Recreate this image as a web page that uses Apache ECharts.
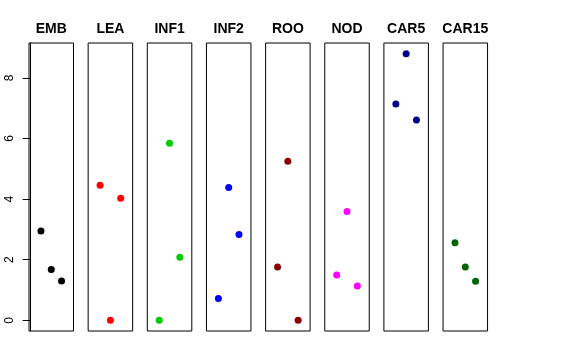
<!DOCTYPE html>
<html><head><meta charset="utf-8">
<script src="https://cdn.jsdelivr.net/npm/echarts@6/dist/echarts.min.js"></script>
<style>html,body{margin:0;padding:0;background:#fff}#c{width:576px;height:360px}</style>
</head><body><div id="c"></div>
<script>
const panels = ["EMB","LEA","INF1","INF2","ROO","NOD","CAR5","CAR15"];
const colors = ["#000000","#FF0000","#00CD00","#0000FF","#8B0000","#FF00FF","#00008B","#006400"];
const xPos = [1, 2, 3];
const valEMB = [2.95, 1.68, 1.30];
const valLEA = [4.46, 0.00, 4.03];
const valINF1 = [0.00, 5.84, 2.08];
const valINF2 = [0.72, 4.38, 2.83];
const valROO = [1.76, 5.25, 0.00];
const valNOD = [1.50, 3.59, 1.13];
const valCAR5 = [7.14, 8.80, 6.61];
const valCAR15 = [2.56, 1.76, 1.29];
const yTicks = [0, 2, 4, 6, 8];
const values = [valEMB, valLEA, valINF1, valINF2, valROO, valNOD, valCAR5, valCAR15];

(function () {
const grids = [], xAxes = [], yAxes = [], series = [], titles = [];
const left0 = 29, step = 59.15, pw = 44.5, ptop = 43, ph = 288;
panels.forEach((name, i) => {
  const L = left0 + step * i;
  grids.push({left: L, top: ptop, width: pw, height: ph, show: true, borderColor: '#000', borderWidth: 1, backgroundColor: 'transparent'});
  xAxes.push({type: 'value', gridIndex: i, min: -0.16, max: 4.16, show: false});
  yAxes.push({type: 'value', gridIndex: i, min: -0.352, max: 9.152,
    show: i === 0,
    splitLine: {show: false},
    axisLine: {show: true, lineStyle: {color: '#000', width: 1}},
    axisTick: {show: true, length: 8, inside: false, customValues: yTicks, lineStyle: {color: '#000'}},
    axisLabel: {show: true, customValues: yTicks, rotate: 90, margin: 13, color: '#000', fontSize: 12, fontFamily: 'Liberation Sans, Arial, sans-serif'}
  });
  titles.push({text: name, left: L + pw / 2, top: 22, textAlign: 'center', padding: 0,
    textStyle: {fontSize: 14, fontWeight: 'bold', color: '#000', fontFamily: 'Liberation Sans, Arial, sans-serif'}});
  series.push({type: 'scatter', xAxisIndex: i, yAxisIndex: i, symbolSize: 7,
    itemStyle: {color: colors[i], opacity: 1},
    data: xPos.map((x, k) => [x, values[i][k]]), animation: false, silent: true});
});
const chart = echarts.init(document.getElementById('c'), null, {renderer: 'canvas'});
chart.setOption({animation: false, title: titles, grid: grids, xAxis: xAxes, yAxis: yAxes, series: series});
})();
</script></body></html>
